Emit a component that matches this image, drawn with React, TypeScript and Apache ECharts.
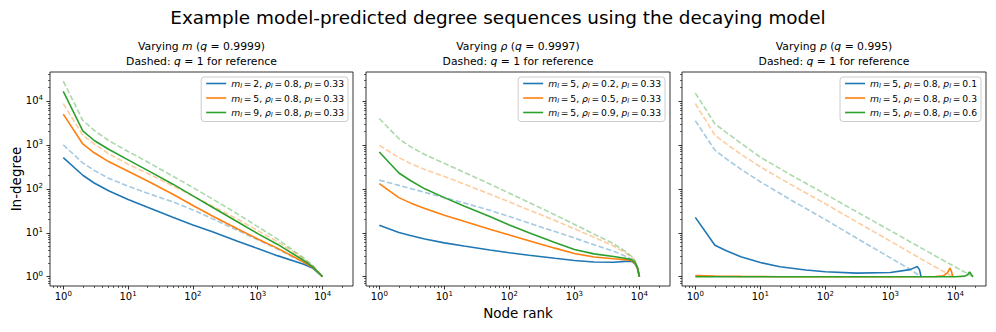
import React, { useEffect, useRef } from 'react';
import * as echarts from 'echarts';

// ---------- data ----------
const COLORS = ['#1f77b4', '#ff7f0e', '#2ca02c'];

// Panel 1: varying m (q = 0.9999)
const P1_RANKS = [1, 2, 3, 5, 10, 20, 50, 100, 200, 500, 1000, 2000, 5000, 7000, 10000];
const P1_M2 = [513, 204, 136, 90.4, 57.5, 38.0, 22.4, 15.1, 10.5, 6.31, 4.37, 3.02, 1.95, 1.58, 1];
const P1_M5 = [5010, 1050, 661, 417, 251, 151, 74.1, 41.7, 24.0, 12.0, 7.24, 4.47, 2.19, 1.66, 1];
const P1_M9 = [16600, 2090, 1260, 794, 457, 263, 126, 69.2, 38.0, 17.4, 9.55, 5.5, 2.4, 1.7, 1];
const P1_M2_REF = [1000, 389, 263, 174, 115, 79.4, 50.1, 33.1, 20.9, 11.2, 6.92, 4.27, 2.14, 1.62, 1];
const P1_M5_REF = [8710, 1660, 1050, 631, 363, 224, 115, 69.2, 40.7, 20.0, 11.2, 6.31, 2.63, 1.78, 1];
const P1_M9_REF = [28200, 3630, 2140, 1260, 708, 407, 191, 107, 58.9, 26.3, 13.8, 7.24, 2.75, 1.82, 1];

// Panel 2: varying rho (q = 0.9997)
const P2_RANKS = [1, 2, 3, 5, 10, 20, 50, 100, 200, 500, 1000, 2000, 4000, 6000, 7500, 8500, 9300, 10000];
const P2_R02 = [14.8, 10.2, 8.71, 7.24, 5.89, 5.01, 4.07, 3.51, 3.09, 2.63, 2.34, 2.16, 2.14, 2.24, 2.24, 2.0, 1.58, 1];
const P2_R05 = [132, 63.1, 47.9, 35.5, 25.1, 18.2, 12.0, 8.91, 6.61, 4.47, 3.39, 2.82, 2.57, 2.45, 2.34, 2.04, 1.58, 1];
const P2_R09 = [692, 229, 155, 100, 63.1, 40.7, 23.4, 15.1, 10.0, 6.03, 4.17, 3.31, 2.88, 2.63, 2.45, 2.14, 1.62, 1];
const P2_R02_REF = [158, 120, 102, 83.2, 63.1, 47.9, 32.4, 23.4, 16.6, 10.7, 7.59, 5.37, 3.8, 2.95, 2.51, 2.14, 1.62, 1];
const P2_R05_REF = [977, 513, 380, 275, 191, 129, 75.9, 50.1, 33.1, 19.1, 12.3, 7.94, 5.01, 3.55, 2.82, 2.29, 1.66, 1];
const P2_R09_REF = [3980, 1380, 912, 603, 380, 240, 129, 79.4, 49.0, 25.7, 15.5, 9.33, 5.62, 3.8, 2.95, 2.34, 1.66, 1];

// Panel 3: varying p (q = 0.995)
const P3_P01_RANKS = [1, 2, 3, 5, 10, 20, 50, 100, 300, 1000, 2000, 2600, 2800, 2960];
const P3_P01 = [22.4, 5.2, 3.9, 2.85, 2.1, 1.69, 1.42, 1.3, 1.21, 1.25, 1.45, 1.7, 1.45, 1.0];
const P3_P03_RANKS = [1, 2, 5, 20, 100, 1000, 5000, 6500, 7500, 8280, 8700, 9120];
const P3_P03 = [1.07, 1.04, 1.02, 1.0, 1.0, 1.0, 1.01, 1.05, 1.22, 1.58, 1.3, 1.0];
const P3_P06_RANKS = [1, 10, 100, 1000, 10000, 14000, 15500, 16500, 17500, 18600];
const P3_P06 = [1.0, 1.0, 1.0, 1.0, 1.0, 1.03, 1.12, 1.28, 1.12, 1.0];
const P3_P01_REF_RANKS = [1, 2, 3, 5, 10, 30, 100, 300, 1000, 2000, 2950];
const P3_P01_REF = [3550, 759, 479, 282, 145, 55.0, 20.0, 7.59, 2.69, 1.48, 1];
const P3_P03_REF_RANKS = [1, 2, 3, 5, 10, 30, 100, 300, 1000, 3000, 9100];
const P3_P03_REF = [8710, 1660, 1050, 617, 316, 123, 45.7, 17.8, 6.46, 2.51, 1];
const P3_P06_REF_RANKS = [1, 2, 3, 5, 10, 30, 100, 300, 1000, 3000, 10000, 18600];
const P3_P06_REF = [15100, 3020, 1910, 1100, 525, 204, 75.9, 30.2, 11.2, 4.47, 1.66, 1];

// legend parameters [m, rho, p]
const P1_PARAMS = [['2', '0.8', '0.33'], ['5', '0.8', '0.33'], ['9', '0.8', '0.33']];
const P2_PARAMS = [['5', '0.2', '0.33'], ['5', '0.5', '0.33'], ['5', '0.9', '0.33']];
const P3_PARAMS = [['5', '0.8', '0.1'], ['5', '0.8', '0.3'], ['5', '0.8', '0.6']];

const TITLE_VAR = ['m', 'ρ', 'p'];
const TITLE_Q = ['0.9999', '0.9997', '0.995'];

const MAJOR_TICKS = [1, 10, 100, 1000, 10000];
const MAJOR_EXP = ['0', '1', '2', '3', '4'];

// ---------- layout ----------
const FONT = 'DejaVu Sans';
const GRID_LEFT = [50, 366, 682];
const GRID_W = [303, 304, 304];
const GRID_TOP = 72;
const GRID_H = 214;
const X_MIN = 0.624;
const X_MAX = 29500;
const Y_MIN = 0.615;
const Y_MAX = 45600;
const TS = '\u2009';

function minorTicks(lo: number, hi: number) {
  const out: number[] = [];
  for (let e = -1; e <= 4; e++) {
    for (let k = 2; k <= 9; k++) {
      const v = k * Math.pow(10, e);
      if (v >= lo && v <= hi) out.push(v);
    }
  }
  return out;
}

const zip = (xs: number[], ys: number[]) => xs.map((x, i) => [x, ys[i]]);

const legendName = (pr: string[]) => `m=${pr[0]}, rho=${pr[1]}, p=${pr[2]}`;
const legendRich = (pr: string[]) =>
  `{i|m}{s|l}{n|${TS}=${TS}${pr[0]}, }{i|ρ}{s|l}{n|${TS}=${TS}${pr[1]}, }{i|p}{s|l}{n|${TS}=${TS}${pr[2]}}`;

export default function App() {
  const ref = useRef<HTMLDivElement>(null);
  useEffect(() => {
    const chart = echarts.init(ref.current!, null, { renderer: 'svg' });

    const panels = [
      {
        params: P1_PARAMS,
        solid: [zip(P1_RANKS, P1_M2), zip(P1_RANKS, P1_M5), zip(P1_RANKS, P1_M9)],
        dashed: [zip(P1_RANKS, P1_M2_REF), zip(P1_RANKS, P1_M5_REF), zip(P1_RANKS, P1_M9_REF)],
      },
      {
        params: P2_PARAMS,
        solid: [zip(P2_RANKS, P2_R02), zip(P2_RANKS, P2_R05), zip(P2_RANKS, P2_R09)],
        dashed: [zip(P2_RANKS, P2_R02_REF), zip(P2_RANKS, P2_R05_REF), zip(P2_RANKS, P2_R09_REF)],
      },
      {
        params: P3_PARAMS,
        solid: [zip(P3_P01_RANKS, P3_P01), zip(P3_P03_RANKS, P3_P03), zip(P3_P06_RANKS, P3_P06)],
        dashed: [
          zip(P3_P01_REF_RANKS, P3_P01_REF),
          zip(P3_P03_REF_RANKS, P3_P03_REF),
          zip(P3_P06_REF_RANKS, P3_P06_REF),
        ],
      },
    ];

    const tickLine = { color: '#000', width: 0.8 };
    const labelRich = {
      b: { fontFamily: FONT, fontSize: 10, lineHeight: 12, color: '#000' },
      sup: { fontFamily: FONT, fontSize: 7, lineHeight: 6, verticalAlign: 'top', color: '#000' },
    };
    const fmt = (v: number) => {
      const idx = MAJOR_TICKS.findIndex((t) => Math.abs(t - v) / t < 1e-6);
      const e = idx >= 0 ? MAJOR_EXP[idx] : String(Math.round(Math.log10(v)));
      return `{b|10}{sup|${e}}`;
    };

    const grids: any[] = [];
    const xAxes: any[] = [];
    const yAxes: any[] = [];
    const series: any[] = [];
    const legends: any[] = [];
    const graphics: any[] = [];
    const xMinor = minorTicks(X_MIN, X_MAX);
    const yMinor = minorTicks(Y_MIN, Y_MAX);

    panels.forEach((p, g) => {
      grids.push({
        left: GRID_LEFT[g],
        top: GRID_TOP,
        width: GRID_W[g],
        height: GRID_H,
        show: true,
        borderColor: '#000',
        borderWidth: 0.8,
        backgroundColor: 'transparent',
        containLabel: false,
        outerBoundsMode: 'none',
      });
      const baseX = {
        type: 'log',
        logBase: 10,
        gridIndex: g,
        min: X_MIN,
        max: X_MAX,
        position: 'bottom',
        axisLine: { show: false, onZero: false },
        splitLine: { show: false },
      };
      const baseY = {
        type: 'log',
        logBase: 10,
        gridIndex: g,
        min: Y_MIN,
        max: Y_MAX,
        position: 'left',
        axisLine: { show: false, onZero: false },
        splitLine: { show: false },
      };
      xAxes.push({
        ...baseX,
        axisTick: { show: true, inside: false, length: 3.5, lineStyle: tickLine, customValues: MAJOR_TICKS },
        axisLabel: { show: true, margin: 4, customValues: MAJOR_TICKS, formatter: fmt, rich: labelRich },
      });
      xAxes.push({
        ...baseX,
        axisTick: { show: true, inside: false, length: 2, lineStyle: { color: '#000', width: 0.6 }, customValues: xMinor },
        axisLabel: { show: false },
      });
      yAxes.push({
        ...baseY,
        axisTick: { show: true, inside: false, length: 3.5, lineStyle: tickLine, customValues: MAJOR_TICKS },
        axisLabel: { show: g === 0, margin: 7, customValues: MAJOR_TICKS, formatter: fmt, rich: labelRich },
      });
      yAxes.push({
        ...baseY,
        axisTick: { show: true, inside: false, length: 2, lineStyle: { color: '#000', width: 0.6 }, customValues: yMinor },
        axisLabel: { show: false },
      });

      // dashed reference lines first (underneath)
      p.dashed.forEach((d, i) => {
        series.push({
          type: 'line',
          name: 'ref ' + legendName(p.params[i]),
          xAxisIndex: 2 * g,
          yAxisIndex: 2 * g,
          data: d,
          symbol: 'none',
          showSymbol: false,
          silent: true,
          color: COLORS[i],
          lineStyle: { color: COLORS[i], width: 1.6, type: [5.5, 2.4], opacity: 0.4 },
        });
      });
      const names: string[] = [];
      p.solid.forEach((d, i) => {
        const nm = legendName(p.params[i]);
        names.push(nm);
        series.push({
          type: 'line',
          name: nm,
          xAxisIndex: 2 * g,
          yAxisIndex: 2 * g,
          data: d,
          symbol: 'none',
          showSymbol: false,
          silent: true,
          color: COLORS[i],
          itemStyle: { color: COLORS[i] },
          lineStyle: { color: COLORS[i], width: 1.6 },
        });
      });
      const richMap: Record<string, string> = {};
      p.params.forEach((pr) => (richMap[legendName(pr)] = legendRich(pr)));
      legends.push({
        data: names,
        orient: 'vertical',
        right: 996 - (GRID_LEFT[g] + GRID_W[g] - 5),
        top: GRID_TOP + 5,
        icon: 'rect',
        itemWidth: 20,
        itemHeight: 1.6,
        itemGap: 4,
        padding: [2, 4, 3, 5],
        selectedMode: false,
        backgroundColor: 'rgba(255,255,255,0.8)',
        borderColor: '#cccccc',
        borderWidth: 1,
        borderRadius: 3,
        formatter: (name: string) => richMap[name] || name,
        textStyle: {
          fontFamily: FONT,
          fontSize: 9.2,
          color: '#000',
          rich: {
            i: { fontFamily: FONT, fontSize: 9.2, fontStyle: 'italic', lineHeight: 12, color: '#000' },
            s: { fontFamily: FONT, fontSize: 6.6, fontStyle: 'italic', lineHeight: 7, verticalAlign: 'bottom', color: '#000' },
            n: { fontFamily: FONT, fontSize: 9.2, lineHeight: 12, color: '#000' },
          },
        },
      });

      // subplot titles
      const cx = GRID_LEFT[g] + GRID_W[g] / 2;
      const titleRich = {
        n: { fontFamily: FONT, fontSize: 10.8, fill: '#000' },
        i: { fontFamily: FONT, fontSize: 10.8, fontStyle: 'italic', fill: '#000' },
      };
      graphics.push({
        type: 'text',
        x: cx,
        y: 46.7,
        silent: true,
        style: {
          text: `{n|Varying }{i|${TITLE_VAR[g]}}{n| (}{i|q}{n| = ${TITLE_Q[g]})}`,
          rich: titleRich,
          fontFamily: FONT,
          fontSize: 10.8,
          fill: '#000',
          align: 'center',
          verticalAlign: 'middle',
        },
      });
      graphics.push({
        type: 'text',
        x: cx,
        y: 61.7,
        silent: true,
        style: {
          text: `{n|Dashed: }{i|q}{n| = 1 for reference}`,
          rich: titleRich,
          fontFamily: FONT,
          fontSize: 10.8,
          fill: '#000',
          align: 'center',
          verticalAlign: 'middle',
        },
      });
    });

    graphics.push({
      type: 'text',
      x: 498,
      y: 17,
      silent: true,
      style: {
        text: 'Example model-predicted degree sequences using the decaying model',
        fontFamily: FONT,
        fontSize: 18.4,
        fill: '#000',
        align: 'center',
        verticalAlign: 'middle',
      },
    });
    graphics.push({
      type: 'text',
      x: 518,
      y: 312.7,
      silent: true,
      style: { text: 'Node rank', fontFamily: FONT, fontSize: 13.5, fill: '#000', align: 'center', verticalAlign: 'middle' },
    });
    graphics.push({
      type: 'text',
      x: 16,
      y: 179,
      rotation: Math.PI / 2,
      silent: true,
      style: { text: 'In-degree', fontFamily: FONT, fontSize: 13.5, fill: '#000', align: 'center', verticalAlign: 'middle' },
    });

    chart.setOption({
      animation: false,
      backgroundColor: '#ffffff',
      textStyle: { fontFamily: FONT },
      grid: grids,
      xAxis: xAxes,
      yAxis: yAxes,
      legend: legends,
      series,
      graphic: graphics,
    });
    return () => chart.dispose();
  }, []);
  return (
    <div
      ref={ref}
      style={{ position: 'fixed', left: 0, top: 0, width: 996, height: 332, background: '#fff' }}
    />
  );
}
